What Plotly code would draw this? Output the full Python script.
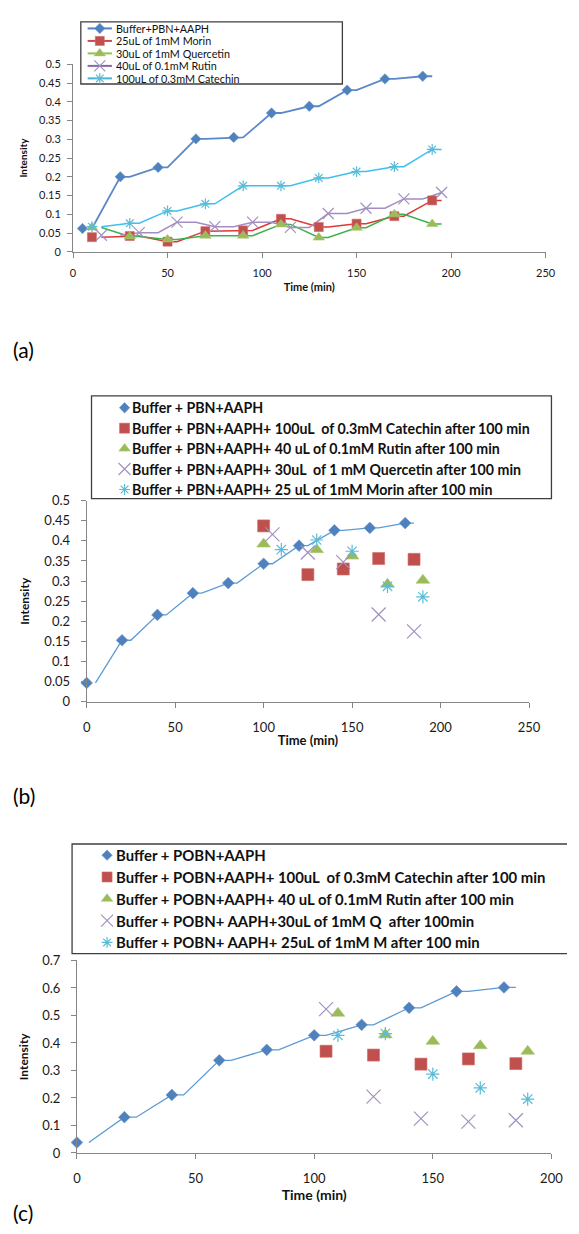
import plotly.graph_objects as go

W, H = 579, 1234
FONT = "Lato"

# ---------------- Panel (a) data ----------------
a_names = ["Buffer+PBN+AAPH", "25uL of 1mM Morin", "30uL of 1mM Quercetin",
           "40uL of 0.1mM Rutin", "100uL of 0.3mM Catechin"]
a_x_buffer = [5, 25, 45, 65, 85, 105, 125, 145, 165, 185]
a_y_buffer = [0.062, 0.200, 0.225, 0.301, 0.305, 0.370, 0.388, 0.431, 0.461, 0.468]
a_x_morin = [10, 30, 50, 70, 90, 110, 130, 150, 170, 190]
a_y_morin = [0.039, 0.042, 0.027, 0.055, 0.057, 0.088, 0.066, 0.075, 0.095, 0.137]
a_x_quercetin = [10, 30, 50, 70, 90, 110, 130, 150, 170, 190]
a_y_quercetin = [0.065, 0.041, 0.033, 0.043, 0.043, 0.073, 0.038, 0.064, 0.100, 0.074]
a_x_rutin = [15, 35, 55, 75, 95, 115, 135, 155, 175, 195]
a_y_rutin = [0.044, 0.051, 0.079, 0.067, 0.079, 0.065, 0.102, 0.116, 0.141, 0.158]
a_x_catechin = [10, 30, 50, 70, 90, 110, 130, 150, 170, 190]
a_y_catechin = [0.067, 0.076, 0.109, 0.128, 0.176, 0.176, 0.197, 0.214, 0.227, 0.273]

# ---------------- Panel (b) data ----------------
b_names = ["Buffer + PBN+AAPH",
           "Buffer + PBN+AAPH+ 100uL  of 0.3mM Catechin after 100 min",
           "Buffer + PBN+AAPH+ 40 uL of 0.1mM Rutin after 100 min",
           "Buffer + PBN+AAPH+ 30uL  of 1 mM Quercetin after 100 min",
           "Buffer + PBN+AAPH+ 25 uL of 1mM Morin after 100 min"]
b_x_buffer = [0, 20, 40, 60, 80, 100, 120, 140, 160, 180]
b_y_buffer = [0.047, 0.153, 0.216, 0.270, 0.295, 0.343, 0.388, 0.426, 0.432, 0.444]
b_x_catechin = [100, 125, 145, 165, 185]
b_y_catechin = [0.437, 0.316, 0.330, 0.356, 0.354]
b_x_rutin = [100, 130, 150, 170, 190]
b_y_rutin = [0.392, 0.378, 0.362, 0.292, 0.302]
b_x_quercetin = [105, 125, 145, 165, 185]
b_y_quercetin = [0.416, 0.371, 0.347, 0.217, 0.175]
b_x_morin = [110, 130, 150, 170, 190]
b_y_morin = [0.378, 0.402, 0.374, 0.287, 0.261]

# ---------------- Panel (c) data ----------------
c_names = ["Buffer + POBN+AAPH",
           "Buffer + POBN+AAPH+ 100uL  of 0.3mM Catechin after 100 min",
           "Buffer + POBN+AAPH+ 40 uL of 0.1mM Rutin after 100 min",
           "Buffer + POBN+ AAPH+30uL of 1mM Q  after 100min",
           "Buffer + POBN+ AAPH+ 25uL of 1mM M after 100 min"]
c_x_buffer = [0, 20, 40, 60, 80, 100, 120, 140, 160, 180]
c_y_buffer = [0.038, 0.130, 0.211, 0.337, 0.375, 0.428, 0.466, 0.528, 0.588, 0.602]
c_x_catechin = [105, 125, 145, 165, 185]
c_y_catechin = [0.370, 0.356, 0.323, 0.342, 0.325]
c_x_rutin = [110, 130, 150, 170, 190]
c_y_rutin = [0.508, 0.430, 0.406, 0.390, 0.370]
c_x_quercetin = [105, 125, 145, 165, 185]
c_y_quercetin = [0.523, 0.205, 0.125, 0.114, 0.119]
c_x_morin = [110, 130, 150, 170, 190]
c_y_morin = [0.428, 0.434, 0.287, 0.237, 0.196]

panel_labels = ["(a)", "(b)", "(c)"]
x_title = "Time (min)"
y_title = "Intensity"

# ---------------- styles ----------------
BLUE, RED, GREEN, PURPLE, AQUA = "#4F81BD", "#C0504D", "#9BBB59", "#8064A2", "#4BACC6"


def px_x(p):
    return p / W


def px_y(p):
    return 1 - p / H


def hold_line(xs, ys, hold, extend_last=True):
    """Excel-style drawn line: each value is held for `hold` minutes."""
    lx, ly = [], []
    n = len(xs)
    for i, (x, y) in enumerate(zip(xs, ys)):
        if i > 0:
            lx.append(x)
            ly.append(y)
        if i < n - 1 or extend_last:
            lx.append(x + hold)
            ly.append(y)
    return lx, ly


def marker_style(kind, size):
    if kind == "diamond":
        return dict(symbol="diamond", size=size, color=BLUE, line=dict(width=0.6, color="#6A95CC"))
    if kind == "square":
        return dict(symbol="square", size=size, color=RED, line=dict(width=0.6, color="#D06A67"))
    if kind == "triangle":
        return dict(symbol="triangle-up", size=size, color=GREEN, line=dict(width=0.6, color="#AAC874"))
    if kind == "x":
        return dict(symbol="x-thin-open", size=size, color="#A390C0", line=dict(width=1.2, color="#A390C0"))
    return dict(symbol="asterisk-open", size=size, color="#5BBCD6", line=dict(width=1.2, color="#5BBCD6"))


fig = go.Figure()

# ---- Panel (a) series
a_series = [
    (a_x_buffer, a_y_buffer, "diamond", 8, "#5A88C8", 1.8, 5, True),
    (a_x_morin, a_y_morin, "square", 9, "#DB3A36", 1.5, 5, True),
    (a_x_quercetin, a_y_quercetin, "triangle", 10, "#3DB24C", 1.5, 5, True),
    (a_x_rutin, a_y_rutin, "x", 11, "#A48CC4", 1.5, 10, False),
    (a_x_catechin, a_y_catechin, "asterisk", 9, "#3EC0EE", 1.5, 5, True),
]
for xs, ys, kind, ms, lc, lw, hold, ext in a_series:
    lx, ly = hold_line(xs, ys, hold, ext)
    fig.add_trace(go.Scatter(x=lx, y=ly, mode="lines", line=dict(color=lc, width=lw),
                             xaxis="x", yaxis="y", showlegend=False, hoverinfo="skip"))
for (xs, ys, kind, ms, lc, lw, hold, ext), name in zip(a_series, a_names):
    fig.add_trace(go.Scatter(x=xs, y=ys, mode="markers", name=name, marker=marker_style(kind, ms),
                             xaxis="x", yaxis="y", showlegend=False, cliponaxis=False))

# ---- Panel (b) series
bl_x, bl_y = hold_line(b_x_buffer, b_y_buffer, 5)
fig.add_trace(go.Scatter(x=bl_x, y=bl_y, mode="lines", line=dict(color="#5B9BD5", width=1.3),
                         xaxis="x2", yaxis="y2", showlegend=False, hoverinfo="skip"))
b_series = [
    (b_x_buffer, b_y_buffer, "diamond", 9),
    (b_x_catechin, b_y_catechin, "square", 12),
    (b_x_rutin, b_y_rutin, "triangle", 12),
    (b_x_quercetin, b_y_quercetin, "x", 14),
    (b_x_morin, b_y_morin, "asterisk", 11),
]
for (xs, ys, kind, ms), name in zip(b_series, b_names):
    fig.add_trace(go.Scatter(x=xs, y=ys, mode="markers", name=name, marker=marker_style(kind, ms),
                             xaxis="x2", yaxis="y2", showlegend=False, cliponaxis=False))

# ---- Panel (c) series
cl_x, cl_y = hold_line(c_x_buffer, c_y_buffer, 5)
fig.add_trace(go.Scatter(x=cl_x, y=cl_y, mode="lines", line=dict(color="#5B9BD5", width=1.3),
                         xaxis="x3", yaxis="y3", showlegend=False, hoverinfo="skip"))
c_series = [
    (c_x_buffer, c_y_buffer, "diamond", 9),
    (c_x_catechin, c_y_catechin, "square", 12),
    (c_x_rutin, c_y_rutin, "triangle", 12),
    (c_x_quercetin, c_y_quercetin, "x", 14),
    (c_x_morin, c_y_morin, "asterisk", 11),
]
for (xs, ys, kind, ms), name in zip(c_series, c_names):
    fig.add_trace(go.Scatter(x=xs, y=ys, mode="markers", name=name, marker=marker_style(kind, ms),
                             xaxis="x3", yaxis="y3", showlegend=False, cliponaxis=False))

# ---------------- legends (drawn on an overlay pixel axis) ----------------
annotations = []
shapes = []
legend_specs = [
    # names, series, box(l,t,r,b), first row y, row step, symbol x, line half-length, text x, font size, bold
    (a_names, a_series, (79, 14, 348, 77), 20.7, 12.65, 98.5, 12.5, 114, 10.8, False),
    (b_names, b_series, (90, 393, 563, 497), 405, 20.7, 124, 0, 131, 14.2, True),
    (c_names, c_series, (70, 847, 581, 958), 858.3, 22.1, 106, 0, 114, 14.9, True),
]
a_legend_line_colors = [BLUE, "#CC4A47", "#93C052", "#8468A8", "#45B4D4"]
for li, (names, series, box, y0, dy, sx, half, tx, fs, bold) in enumerate(legend_specs):
    l, t, r, b = box
    shapes.append(dict(type="rect", xref="x4", yref="y4", x0=l, x1=r, y0=t, y1=b,
                       line=dict(color="#3F3F3F", width=1.3), fillcolor="rgba(0,0,0,0)", layer="below"))
    for i, name in enumerate(names):
        ry = y0 + i * dy
        kind = series[i][2]
        ms = series[i][3]
        if half > 0:
            fig.add_trace(go.Scatter(x=[sx - half, sx + half], y=[ry, ry], mode="lines",
                                     line=dict(color=a_legend_line_colors[i], width=2),
                                     xaxis="x4", yaxis="y4", showlegend=False, hoverinfo="skip"))
        else:
            ms = max(ms - 2, 8)
        fig.add_trace(go.Scatter(x=[sx], y=[ry], mode="markers", marker=marker_style(kind, ms),
                                 xaxis="x4", yaxis="y4", showlegend=False, hoverinfo="skip",
                                 cliponaxis=False))
        txt = f"<b>{name}</b>" if bold else name
        annotations.append(dict(text=txt, xref="x4", yref="y4", x=tx, y=ry, xanchor="left",
                                yanchor="middle", showarrow=False, borderpad=0,
                                font=dict(family=FONT, size=fs, color="#111111")))

# panel labels
for lab, cy in zip(panel_labels, [346, 798, 1220]):
    annotations.append(dict(text=lab, xref="paper", yref="paper", x=px_x(7), y=px_y(cy),
                            xanchor="left", yanchor="middle", showarrow=False,
                            font=dict(family=FONT, size=21, color="#000000")))


def ax_common(fs, standoff):
    return dict(showline=True, linecolor="#868686", linewidth=1, ticks="outside", ticklen=5,
                tickcolor="#868686", showgrid=False, zeroline=False,
                tickfont=dict(family=FONT, size=fs, color="#1A1A1A"), ticklabelstandoff=standoff)


fig.update_layout(
    width=W, height=H, margin=dict(l=0, r=0, t=0, b=0),
    paper_bgcolor="white", plot_bgcolor="rgba(0,0,0,0)", showlegend=False,
    font=dict(family=FONT),
    xaxis=dict(domain=[px_x(71), px_x(557)], range=[0, 250], dtick=50, anchor="y",
               title=dict(text=f"<b>{x_title}</b>", font=dict(family=FONT, size=11, color="#111"), standoff=5),
               **ax_common(11, 6)),
    yaxis=dict(domain=[px_y(247), px_y(57)], range=[0, 0.5], dtick=0.05, anchor="x",
               title=dict(text=f"<b>{y_title}</b>", font=dict(family=FONT, size=10, color="#111"), standoff=9),
               **ax_common(11, 4)),
    xaxis2=dict(domain=[px_x(85), px_x(540)], range=[0, 250], dtick=50, anchor="y2",
                title=dict(text=f"<b>{x_title}</b>", font=dict(family=FONT, size=13, color="#111"), standoff=1),
                **ax_common(13, 9)),
    yaxis2=dict(domain=[px_y(703), px_y(499)], range=[0, 0.5], dtick=0.05, anchor="x2",
                title=dict(text=f"<b>{y_title}</b>", font=dict(family=FONT, size=12, color="#111"), standoff=12),
                **ax_common(13, 8)),
    xaxis3=dict(domain=[px_x(75), px_x(563)], range=[0, 200], dtick=50, anchor="y3",
                title=dict(text=f"<b>{x_title}</b>", font=dict(family=FONT, size=14, color="#111"), standoff=1),
                **ax_common(13, 8)),
    yaxis3=dict(domain=[px_y(1160), px_y(965)], range=[0, 0.7], dtick=0.1, anchor="x3",
                title=dict(text=f"<b>{y_title}</b>", font=dict(family=FONT, size=12, color="#111"), standoff=10),
                **ax_common(13, 8)),
    xaxis4=dict(domain=[0, 1], range=[0, W], visible=False, anchor="y4", fixedrange=True),
    yaxis4=dict(domain=[0, 1], range=[H, 0], visible=False, anchor="x4", fixedrange=True),
    annotations=annotations,
    shapes=shapes,
)

fig.write_html("out.html")
